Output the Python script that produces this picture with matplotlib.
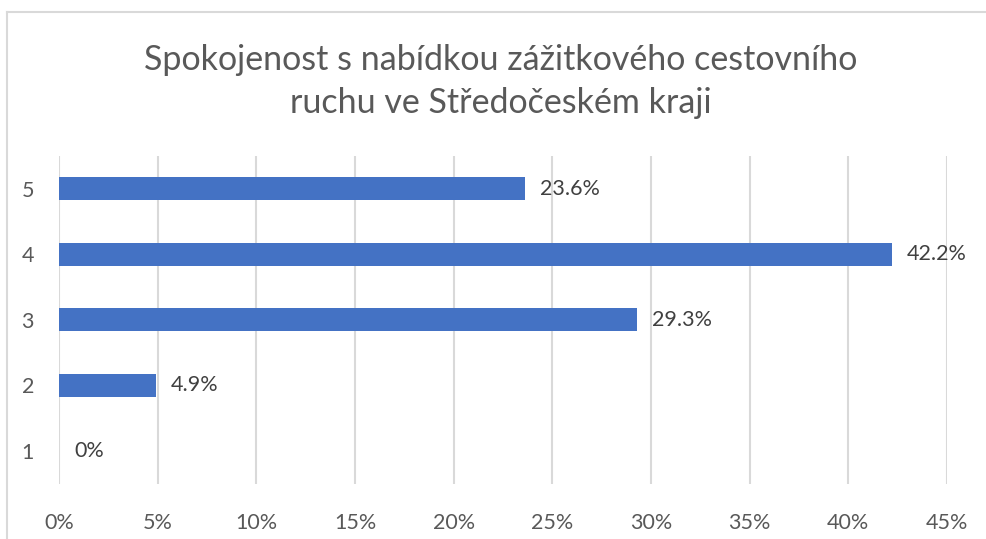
import matplotlib
matplotlib.use("Agg")
import matplotlib.pyplot as plt
from matplotlib.lines import Line2D
from matplotlib.ticker import FuncFormatter

categories = ["1", "2", "3", "4", "5"]
values = [0.0, 4.9, 29.3, 42.2, 23.6]
value_labels = ["0%", "4.9%", "29.3%", "42.2%", "23.6%"]
xticks = [0, 5, 10, 15, 20, 25, 30, 35, 40, 45]
title_lines = ["Spokojenost s nabídkou zážitkového cestovního",
               "ruchu ve Středočeském kraji"]

W, H = 986, 539
plt.rcParams['font.family'] = ['Lato', 'DejaVu Sans']
fig = plt.figure(figsize=(W / 100, H / 100), dpi=100)
fig.patch.set_facecolor("white")

# chart border (partially cropped)
fig.add_artist(Line2D([7 / W, 1], [1 - 12 / H, 1 - 12 / H], color="#D9D9D9", lw=1.5))
fig.add_artist(Line2D([7 / W, 7 / W], [0, 1 - 12 / H], color="#D9D9D9", lw=1.5))

ax = fig.add_axes([59 / W, 1 - 483.5 / H, (947 - 59) / W, (483.5 - 156) / H])
ypos = list(range(len(categories)))
ax.barh(ypos, values, height=0.35, color="#4472C4", zorder=3)
ax.set_xlim(0, 45)
ax.set_ylim(-0.5, len(categories) - 0.5)
ax.set_xticks(xticks)
ax.xaxis.set_major_formatter(FuncFormatter(lambda v, p: f"{v:.0f}%"))
ax.set_yticks(ypos)
ax.set_yticklabels(categories)
ax.grid(axis="x", color="#D9D9D9", lw=1.5, zorder=0)
for s in ax.spines.values():
    s.set_visible(False)
ax.tick_params(length=0, colors="#595959", labelsize=15.5)
ax.tick_params(axis="x", pad=21)
ax.tick_params(axis="y", pad=18)

for y, v, lab in zip(ypos, values, value_labels):
    ax.annotate(lab, (v, y), xytext=(11, 0), textcoords="offset points",
                va="center", ha="left", fontsize=15.5, color="#404040")

t1 = fig.text(501 / W, 1 - 60 / H, title_lines[0], ha="center", va="center",
              fontsize=24, color="#595959")
t2 = fig.text(501 / W, 1 - 103 / H, title_lines[1], ha="center", va="center",
              fontsize=24, color="#595959")
fig.canvas.draw()
r = fig.canvas.get_renderer()
w = t1.get_window_extent(r).width
scale = 713 / w
t1.set_fontsize(24 * scale)
t2.set_fontsize(24 * scale)

fig.savefig("out.png", dpi=100, facecolor="white")
